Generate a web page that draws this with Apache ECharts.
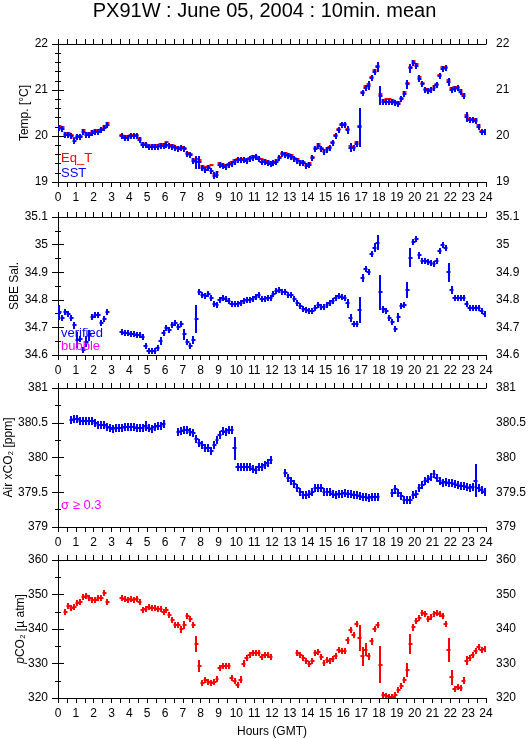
<!DOCTYPE html>
<html>
<head>
<meta charset="utf-8">
<script src="https://cdn.jsdelivr.net/npm/echarts@6/dist/echarts.min.js"></script>
<style>
html,body{margin:0;padding:0;background:#fff;}
#chart{width:529px;height:739px;}
</style>
</head>
<body>
<div id="chart"></div>
<script>
// ---------- DATA (10-minute bins, index 0 = 00:00-00:10 GMT) ----------
const binMinutes = 10;
const hourTicks = [0, 24];

const sst = [20.17,20.16,20.03,20.03,19.99,19.90,19.97,19.97,20.09,20.03,20.03,20.06,20.09,20.09,20.12,20.17,20.25,
 null,null,null,null,
 19.99,19.96,19.96,19.99,19.99,19.99,19.92,19.80,19.80,19.76,19.76,19.76,19.77,19.78,19.79,19.81,19.78,19.77,19.74,19.71,
 19.73,19.72,19.60,19.58,19.46,19.43,19.43,19.30,19.27,19.30,19.25,19.14,19.16,19.37,19.35,19.33,19.36,19.40,19.44,19.47,
 19.47,19.47,19.46,19.50,19.53,19.54,19.50,19.44,19.43,19.42,19.39,19.41,19.44,19.52,19.60,19.59,19.56,19.55,19.50,19.46,
 19.42,19.41,19.34,19.37,19.52,19.71,19.79,19.71,19.66,19.70,19.73,19.85,19.99,20.12,20.23,20.23,20.13,19.75,19.73,19.82,
 20.19,20.93,21.05,21.09,21.26,21.40,21.50,20.88,20.75,20.75,20.75,20.74,20.71,20.70,20.80,20.92,21.12,21.47,21.58,21.53,
 21.25,21.12,21.00,20.97,21.00,21.05,21.10,21.30,21.46,21.48,21.17,21.00,21.03,21.04,20.96,20.87,20.42,20.34,20.34,20.33,
 20.19,20.08,20.08];
const eqT = [20.22,20.19,20.06,20.06,20.03,19.96,20.00,20.00,20.12,20.06,20.07,20.11,20.12,20.13,20.16,20.21,20.28,
 null,null,null,null,
 20.02,20.00,20.00,20.03,20.03,20.02,19.96,19.84,19.82,19.80,19.79,19.80,19.81,19.82,19.83,19.86,19.81,19.81,19.77,19.75,
 19.76,19.75,19.63,19.61,19.50,19.50,19.48,19.34,19.32,19.34,19.36,19.18,19.22,19.41,19.40,19.37,19.39,19.44,19.48,19.51,
 19.51,19.51,19.51,19.53,19.56,19.56,19.53,19.49,19.47,19.45,19.43,19.44,19.48,19.55,19.63,19.63,19.60,19.58,19.53,19.50,
 19.46,19.44,19.39,19.41,19.55,19.74,19.82,19.74,19.70,19.74,19.76,19.88,20.02,20.15,20.26,20.26,20.16,19.78,19.76,19.86,
 20.21,20.96,21.08,21.12,21.29,21.43,21.53,20.91,20.79,20.80,20.80,20.78,20.75,20.74,20.83,20.95,21.15,21.50,21.62,21.57,
 21.29,21.15,21.03,21.00,21.03,21.08,21.13,21.33,21.50,21.51,21.21,21.04,21.06,21.07,20.99,20.91,20.46,20.38,20.37,20.36,
 20.23,20.11,20.11];
// [bin index, standard deviation]
const sstErr = [[45,0.06],[46,0.14],[47,0.14],[51,0.05],[52,0.07],[53,0.07],[83,0.05],[85,0.06],[88,0.06],[97,0.09],[98,0.09],
 [99,0.06],[101,0.42],[104,0.10],[106,0.06],[107,0.10],[108,0.20],[117,0.09],[118,0.10],[121,0.07],[131,0.09],[132,0.05],
 [136,0.05],[137,0.11],[141,0.04]];

const salinity = [34.754,34.735,34.754,34.748,34.733,34.708,34.654,34.658,34.618,34.648,34.672,34.739,34.745,34.745,34.717,34.729,34.754,
 null,null,null,null,
 34.682,34.681,34.678,34.676,34.675,34.674,34.672,34.666,34.634,34.614,34.614,34.614,34.624,34.652,34.678,34.699,34.690,34.708,34.717,34.702,
 34.712,34.675,34.648,34.634,34.654,34.730,34.829,34.817,34.813,34.820,34.805,34.783,34.780,34.801,34.808,34.802,34.795,34.786,34.786,34.786,
 34.788,34.796,34.799,34.799,34.802,34.810,34.817,34.802,34.804,34.805,34.805,34.820,34.833,34.837,34.827,34.827,34.819,34.819,34.802,34.787,
 34.777,34.766,34.763,34.760,34.760,34.769,34.781,34.775,34.775,34.781,34.787,34.795,34.805,34.814,34.810,34.805,34.787,34.733,34.711,34.711,
 34.763,34.880,34.913,34.901,34.967,34.989,35.007,34.827,34.765,34.759,34.733,34.718,34.696,34.736,34.778,34.781,34.835,34.953,35.010,35.022,
 34.961,34.940,34.940,34.937,34.934,34.931,34.941,34.976,34.998,34.988,34.899,34.835,34.805,34.808,34.808,34.808,34.784,34.772,34.770,34.770,
 34.770,34.759,34.750];
const salErr = [[0,0.027],[5,0.012],[6,0.03],[9,0.02],[10,0.02],[34,0.015],[42,0.02],[45,0.015],[46,0.05],[97,0.015],[98,0.015],
 [101,0.048],[102,0.015],[104,0.012],[106,0.015],[107,0.027],[108,0.063],[109,0.012],[110,0.012],[114,0.015],[117,0.029],
 [118,0.035],[121,0.012],[131,0.034],[132,0.015]];

const airCO2 = [null,null,null,null,
 380.537,380.552,380.552,380.528,380.528,380.528,380.528,380.528,380.494,380.470,380.470,380.470,380.446,380.422,380.407,380.431,
 380.431,380.431,380.436,380.446,380.446,380.437,380.422,380.427,380.430,380.455,380.431,380.417,380.446,380.455,380.455,380.484,
 null,null,null,null,
 380.373,380.388,380.398,380.398,380.373,380.350,380.267,380.205,380.180,380.142,380.130,380.099,380.180,380.253,380.325,380.383,
 380.373,380.398,380.398,380.132,379.867,379.867,379.860,379.860,379.867,379.834,379.820,379.860,379.860,379.885,379.920,379.970,
 null,null,null,null,
 379.771,379.710,379.655,379.620,379.554,379.506,379.458,379.458,379.482,379.506,379.554,379.554,379.554,379.506,379.506,379.510,
 379.482,379.458,379.482,379.470,379.490,379.470,379.482,379.458,379.458,379.443,379.434,379.434,379.424,379.430,379.434,379.434,
 null,null,null,null,
 379.490,379.540,379.490,379.443,379.395,379.395,379.395,379.458,379.482,379.554,379.602,379.665,379.689,379.723,379.761,379.700,
 379.665,379.640,379.650,379.636,379.627,379.620,379.602,379.588,379.592,379.578,379.565,379.570,379.665,379.554,379.530,379.506];
const airErr = [[13,0.05],[29,0.07],[45,0.06],[52,0.05],[59,0.165],[113,0.06],[126,0.06],[140,0.24]];

const pco2 = [null,null,
 345.0,346.8,346.1,346.4,347.6,347.9,349.2,349.7,348.9,348.5,348.3,348.9,349.1,350.5,347.9,
 null,null,null,null,
 348.9,348.6,348.3,348.6,348.3,348.6,347.9,345.5,345.9,346.4,346.1,346.1,345.9,345.7,345.0,345.4,344.0,342.5,341.3,341.1,
 339.9,341.1,343.7,343.0,341.3,335.7,329.2,324.4,325.3,324.6,324.4,324.5,325.6,328.7,329.2,329.2,329.4,325.8,324.8,323.9,
 325.3,329.9,331.6,332.6,333.1,333.1,332.9,331.9,332.6,332.6,332.0,
 null,null,null,null,null,null,null,null,
 333.1,332.6,331.6,330.7,329.9,330.7,332.9,333.4,331.8,330.2,331.1,330.8,331.3,332.3,333.9,333.6,333.6,336.7,339.6,338.4,
 341.5,337.4,332.1,334.0,332.1,336.5,339.9,341.3,329.7,321.0,320.7,320.3,320.3,320.8,322.2,323.4,325.1,328.0,335.7,340.5,
 342.3,343.1,344.5,344.4,343.0,343.5,344.4,344.7,344.4,343.7,341.5,333.9,326.0,322.7,323.1,322.8,325.0,330.8,331.6,332.6,
 333.6,334.7,334.0,334.3];
const pco2Err = [[37,0.6],[41,1.0],[42,1.2],[45,0.8],[46,2.4],[47,1.7],[53,0.8],[57,0.8],[61,1.0],[62,1.0],[88,0.8],[97,1.0],
 [101,3.8],[102,2.7],[103,1.9],[104,1.0],[105,1.0],[108,5.3],[117,2.0],[118,2.9],[119,1.0],[131,3.5],[132,2.2],[136,1.0],[137,1.3]];

// ---------- BUILD ----------
const BIN = binMinutes / 60;
function toData(vals, errs) {
  const m = {};
  (errs || []).forEach(e => { m[e[0]] = e[1]; });
  const out = [];
  vals.forEach((v, i) => { if (v != null) out.push([(i + 0.5) * BIN, v, m[i] || 0]); });
  return out;
}

const FONT = "'Liberation Sans', Arial, Helvetica, sans-serif";
const grids = [
  {left: 58, top: 44, width: 428, height: 138},
  {left: 58, top: 217, width: 428, height: 138},
  {left: 58, top: 388, width: 428, height: 139},
  {left: 58, top: 560, width: 428, height: 138}
].map(g => Object.assign({outerBoundsMode: 'none', containLabel: false}, g));

const yCfg = [
  {min: 19, max: 22, interval: 1, minor: 5, name: 'Temp. [°C]', gap: 27},
  {min: 34.6, max: 35.1, interval: 0.1, minor: 2, name: 'SBE Sal.', gap: 37},
  {min: 379, max: 381, interval: 0.5, minor: 2, name: 'Air xCO₂ [ppm]', gap: 43},
  {min: 320, max: 360, interval: 10, minor: 2, name: '{it|p}CO₂ [µ atm]', gap: 31}
];

const black = '#000';
const xAxes = [], yAxes = [];
grids.forEach((g, k) => {
  const base = {
    type: 'value', gridIndex: k, min: hourTicks[0], max: hourTicks[1], interval: 1,
    axisLine: {show: true, lineStyle: {color: black, width: 1}},
    axisTick: {show: true, length: 5, lineStyle: {color: black}},
    minorTick: {show: true, splitNumber: 2, length: 5, lineStyle: {color: black}},
    splitLine: {show: false}, minorSplitLine: {show: false}
  };
  const bottom = Object.assign({}, base, {
    position: 'bottom',
    axisLabel: {show: true, margin: 10, color: black, fontSize: 12, fontFamily: FONT, hideOverlap: false}
  });
  if (k === 3) {
    bottom.name = 'Hours (GMT)';
    bottom.nameLocation = 'middle';
    bottom.nameGap = 28;
    bottom.nameMoveOverlap = false;
    bottom.nameTextStyle = {color: black, fontSize: 12, fontFamily: FONT};
  }
  xAxes.push(bottom);
  xAxes.push(Object.assign({}, base, {position: 'top', axisLabel: {show: false}}));

  const c = yCfg[k];
  const ybase = {
    type: 'value', gridIndex: k, min: c.min, max: c.max, interval: c.interval,
    axisLine: {show: true, lineStyle: {color: black, width: 1}},
    axisTick: {show: true, length: 6, lineStyle: {color: black}},
    minorTick: {show: true, splitNumber: c.minor, length: 3, lineStyle: {color: black}},
    splitLine: {show: false}, minorSplitLine: {show: false},
    axisLabel: {show: true, margin: 10, color: black, fontSize: 12, fontFamily: FONT}
  };
  yAxes.push(Object.assign({}, ybase, {
    position: 'left', name: c.name, nameLocation: 'middle', nameGap: c.gap, nameRotate: 90,
    nameMoveOverlap: false,
    nameTextStyle: {color: black, fontSize: 12, fontFamily: FONT,
      rich: {it: {fontStyle: 'italic', fontSize: 12, fontFamily: FONT, color: black}}}
  }));
  yAxes.push(Object.assign({}, ybase, {position: 'right'}));
});

// each 10-min mean: horizontal bar over the bin, vertical bar for +/- sigma
function plusSeries(k, data, color, minHalf, vert) {
  return {
    type: 'custom', xAxisIndex: 2 * k, yAxisIndex: 2 * k, clip: true,
    data: data, encode: {x: 0, y: 1},
    renderItem: function (params, api) {
      const t = api.value(0), v = api.value(1), sd = api.value(2);
      const p = api.coord([t, v]);
      const w = api.size([BIN, 0])[0] / 2;
      const cy = Math.round(p[1]);
      const cx = Math.round(p[0]);
      const children = [{
        type: 'line',
        shape: {x1: Math.round(p[0] - w) - 0.5, y1: cy, x2: Math.round(p[0] + w) + 0.5, y2: cy},
        style: {stroke: color, lineWidth: 2}
      }];
      if (vert) {
        const hs = Math.abs(api.size([0, sd])[1]);
        const h = Math.max(hs, minHalf);
        children.push({
          type: 'line',
          shape: {x1: cx, y1: Math.round(p[1] - h), x2: cx, y2: Math.round(p[1] + h)},
          style: {stroke: color, lineWidth: 2}
        });
      }
      return {type: 'group', children: children};
    }
  };
}

const BLUE = '#0000ff', RED = '#ff0000', MAG = '#ff00ff';
const series = [
  plusSeries(0, toData(eqT, []), RED, 0, false),
  plusSeries(0, toData(sst, sstErr), BLUE, 3, true),
  plusSeries(1, toData(salinity, salErr), BLUE, 3, true),
  plusSeries(2, toData(airCO2, airErr), BLUE, 4, true),
  plusSeries(3, toData(pco2, pco2Err), RED, 3, true)
];

const titles = [
  {text: 'PX91W : June 05, 2004 : 10min. mean', left: 'center', top: 1,
   textStyle: {fontSize: 20, fontWeight: 'normal', color: black, fontFamily: FONT}},
  {text: 'Eq_T', left: 61, top: 152, textStyle: {fontSize: 13, fontWeight: 'normal', color: RED, fontFamily: FONT}},
  {text: 'SST', left: 61, top: 167, textStyle: {fontSize: 13, fontWeight: 'normal', color: BLUE, fontFamily: FONT}},
  {text: 'verified', left: 61, top: 327, textStyle: {fontSize: 13, fontWeight: 'normal', color: BLUE, fontFamily: FONT}},
  {text: 'bubble', left: 61, top: 340, textStyle: {fontSize: 13, fontWeight: 'normal', color: MAG, fontFamily: FONT}},
  {text: 'σ ≥ 0.3', left: 61, top: 499, textStyle: {fontSize: 13, fontWeight: 'normal', color: MAG, fontFamily: FONT}}
].map(t => Object.assign({padding: 0}, t));

const chart = echarts.init(document.getElementById('chart'), null, {renderer: 'canvas'});
chart.setOption({
  animation: false,
  backgroundColor: '#fff',
  title: titles,
  grid: grids,
  xAxis: xAxes,
  yAxis: yAxes,
  series: series
});
</script>
</body>
</html>
